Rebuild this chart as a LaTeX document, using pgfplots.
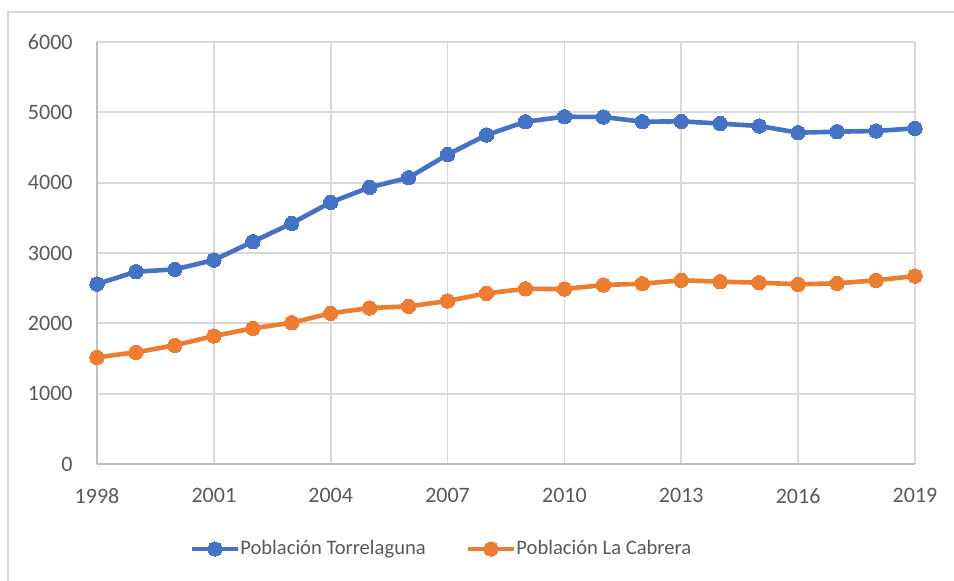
\documentclass[border=0pt]{standalone}
\usepackage{pgfplots}
\pgfplotsset{compat=1.18}
\usepackage{fontspec}
\setmainfont{Carlito}
\definecolor{cblue}{HTML}{4472C4}
\definecolor{corange}{HTML}{ED7D31}
\definecolor{cgrid}{HTML}{D9D9D9}
\definecolor{caxis}{HTML}{BFBFBF}
\definecolor{ctext}{HTML}{595959}
\begin{document}
\begin{tikzpicture}
\path[use as bounding box] (0,0) rectangle (477pt,-290pt);
\draw[cgrid, line width=0.6pt] (4pt,-300pt) -- (4pt,-6pt) -- (490pt,-6pt);
\begin{axis}[
  at={(48.5pt,-232pt)}, anchor=south west,
  scale only axis, width=409pt, height=211pt,
  xmin=1998, xmax=2019, ymin=0, ymax=6000,
  xtick={1998,2001,...,2019}, ytick={0,1000,...,6000},
  /pgf/number format/1000 sep={},
  /pgf/number format/assume math mode=true,
  grid=major, major grid style={cgrid, line width=0.9pt},
  axis lines=left, axis line style={-, caxis, line width=0.9pt},
  major tick length=0pt,
  tick label style={font=\fontsize{11}{13}\selectfont, text=ctext},
  yticklabel style={anchor=east, inner sep=0pt, xshift=-12pt},
  xticklabel style={anchor=north, inner sep=0pt, yshift=-12pt},
  clip=false,
  legend columns=2,
  legend style={at={(0.4224,-0.2014)}, anchor=center, draw=none, fill=none,
    font=\fontsize{10.3}{12}\selectfont, text=ctext,
    /tikz/every even column/.append style={column sep=18pt},
    /tikz/every odd column/.append style={column sep=-2pt}},
  legend image code/.code={\draw[mark repeat=2,mark phase=2] plot coordinates {(0pt,0pt)(11.5pt,0pt)(23pt,0pt)};},
]
\addplot[cblue, line width=2.3pt, mark=*, mark size=3.6pt, mark options={fill=cblue, draw=cblue, line width=0pt}] coordinates {
(1998,2559)(1999,2734)(2000,2768)(2001,2900)(2002,3161)(2003,3422)(2004,3721)
(2005,3934)(2006,4071)(2007,4400)(2008,4678)(2009,4867)(2010,4938)(2011,4934)
(2012,4867)(2013,4872)(2014,4840)(2015,4806)(2016,4711)(2017,4725)(2018,4735)(2019,4773)};
\addlegendentry{Población Torrelaguna}
\addplot[corange, line width=2.3pt, mark=*, mark size=3.6pt, mark options={fill=corange, draw=corange, line width=0pt}] coordinates {
(1998,1517)(1999,1588)(2000,1688)(2001,1820)(2002,1929)(2003,2009)(2004,2143)
(2005,2218)(2006,2242)(2007,2318)(2008,2427)(2009,2490)(2010,2488)(2011,2545)
(2012,2564)(2013,2612)(2014,2592)(2015,2578)(2016,2555)(2017,2569)(2018,2612)(2019,2673)};
\addlegendentry{Población La Cabrera}
\end{axis}
\end{tikzpicture}
\end{document}
